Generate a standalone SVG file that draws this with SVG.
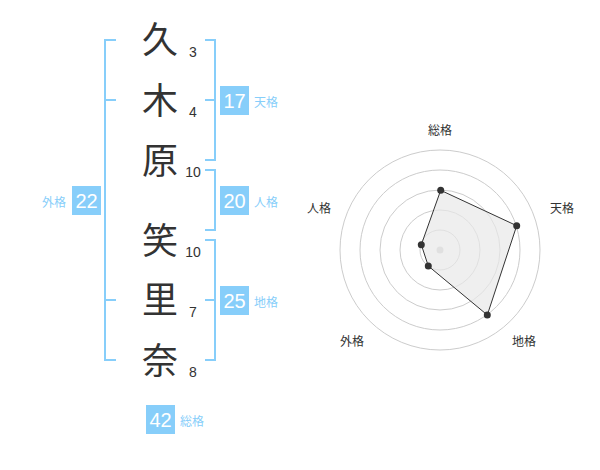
<svg xmlns="http://www.w3.org/2000/svg" width="600" height="470" viewBox="0 0 600 470">
<style>
text{font-family:"Liberation Sans","Noto Sans CJK JP",sans-serif}
.ch{font-size:36px;fill:#333;text-anchor:middle;font-family:"Noto Sans CJK JP",sans-serif}
.num{font-size:14px;fill:#333;text-anchor:middle}
.br{fill:none;stroke:#87cefa;stroke-width:2}
.box{fill:#87cefa}
.bv{font-size:20px;fill:#fff;text-anchor:middle}
.bl{font-size:12px;fill:#87cefa;font-family:"Noto Sans CJK JP",sans-serif}
.rl{font-size:12px;fill:#333;text-anchor:middle;font-family:"Noto Sans CJK JP",sans-serif}
.ring{fill:none;stroke:#ccc;stroke-width:1}
.pt{fill:#333}
</style>
<rect width="600" height="470" fill="#fff"/>
<g id="chars">
<text class="ch" x="160" y="53">久</text>
<text class="ch" x="160" y="114">木</text>
<text class="ch" x="160" y="174">原</text>
<text class="ch" x="160" y="254">笑</text>
<text class="ch" x="160" y="313">里</text>
<text class="ch" x="160" y="374">奈</text>
<text class="num" x="193" y="57">3</text>
<text class="num" x="193" y="117">4</text>
<text class="num" x="193" y="177">10</text>
<text class="num" x="193" y="257">10</text>
<text class="num" x="193" y="317">7</text>
<text class="num" x="193" y="377">8</text>
</g>
<g id="connectors">
<path class="br" d="M116,40H105V360H116M105,100H116M105,300H116"/>
<path class="br" d="M205,40H215V160H205M215,100H205"/>
<path class="br" d="M205,170H215V230H205"/>
<path class="br" d="M205,240H215V360H205M215,300H205"/>
</g>
<g id="gaikaku">
<rect class="box" x="72" y="186" width="29" height="29"/>
<text class="bv" x="86.5" y="208">22</text>
<text class="bl" x="42" y="207">外格</text>
</g>
<g id="tenkaku">
<rect class="box" x="220" y="86" width="29" height="29"/>
<text class="bv" x="234.5" y="108">17</text>
<text class="bl" x="254" y="107">天格</text>
</g>
<g id="jinkaku">
<rect class="box" x="220" y="186" width="29" height="29"/>
<text class="bv" x="234.5" y="208">20</text>
<text class="bl" x="254" y="207">人格</text>
</g>
<g id="chikaku">
<rect class="box" x="220" y="286" width="29" height="29"/>
<text class="bv" x="234.5" y="308">25</text>
<text class="bl" x="254" y="307">地格</text>
</g>
<g id="soukaku">
<rect class="box" x="146" y="405" width="29" height="29"/>
<text class="bv" x="160.5" y="427">42</text>
<text class="bl" x="180" y="426">総格</text>
</g>
<g id="radar">
<circle class="ring" cx="440" cy="250" r="20"/>
<circle class="ring" cx="440" cy="250" r="40"/>
<circle class="ring" cx="440" cy="250" r="60"/>
<circle class="ring" cx="440" cy="250" r="80"/>
<circle class="ring" cx="440" cy="250" r="100"/>
<circle cx="440" cy="250" r="3.5" fill="#ccc"/>
<polygon points="440.7,190.3 516.7,225.7 487.3,315 428.3,266 421.3,244.7" fill="#e8e8e8" fill-opacity="0.7" stroke="#333" stroke-width="1"/>
<circle class="pt" cx="440.7" cy="190.3" r="3.5"/>
<circle class="pt" cx="516.7" cy="225.7" r="3.5"/>
<circle class="pt" cx="487.3" cy="315" r="3.5"/>
<circle class="pt" cx="428.3" cy="266" r="3.5"/>
<circle class="pt" cx="421.3" cy="244.7" r="3.5"/>
<text class="rl" x="440" y="135">総格</text>
<text class="rl" x="562" y="212.5">天格</text>
<text class="rl" x="524" y="346">地格</text>
<text class="rl" x="352" y="346">外格</text>
<text class="rl" x="319" y="212.5">人格</text>
</g>
</svg>
